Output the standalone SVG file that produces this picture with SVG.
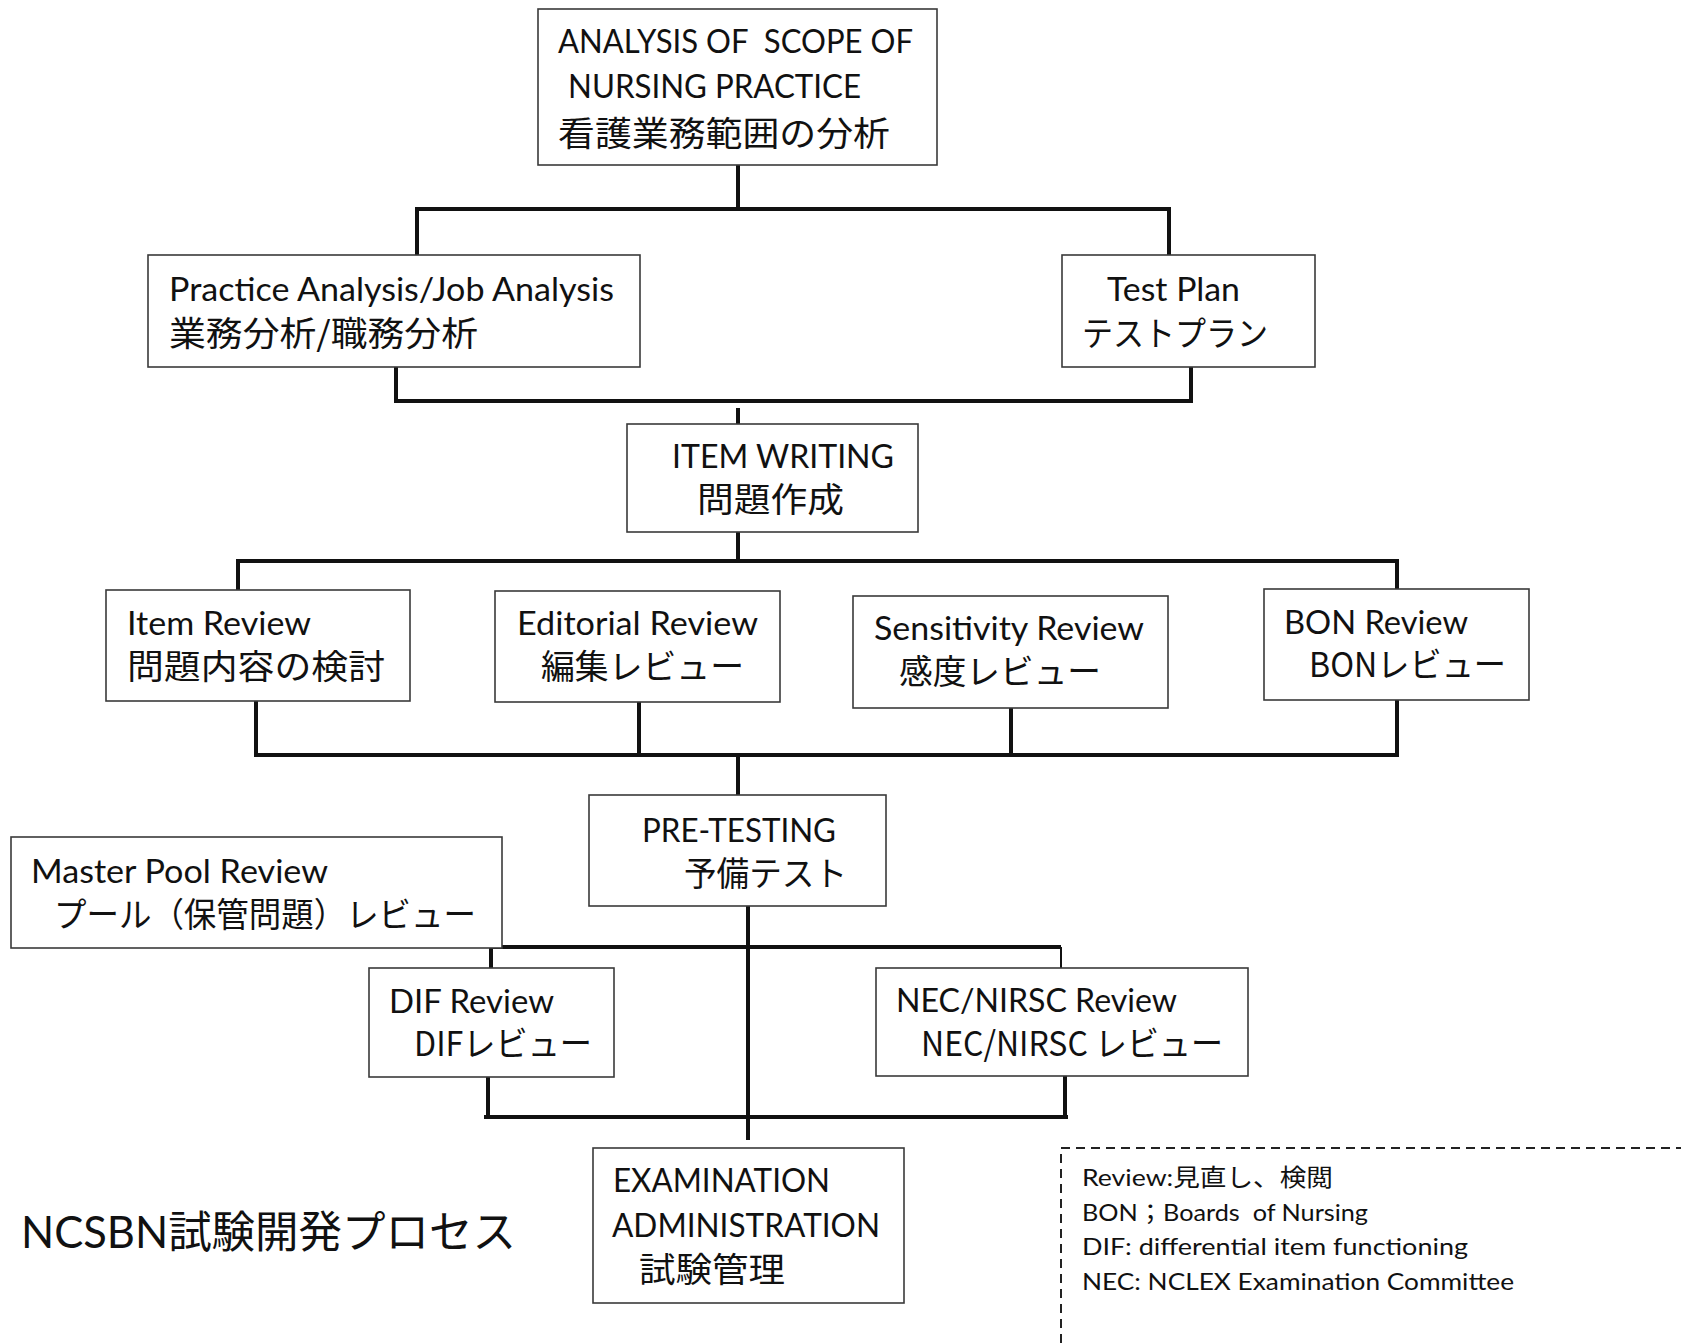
<svg xmlns="http://www.w3.org/2000/svg" width="1681" height="1343" viewBox="0 0 1681 1343">
<style>
.box{fill:#fff;stroke:#3a3a3a;stroke-width:1.6}
.t{font-family:Lato,"Open Sans","Noto Sans CJK JP",sans-serif;font-size:32px;fill:#111}
.j{font-family:"Noto Sans CJK JP",sans-serif;font-size:34px;fill:#111}
.lg{font-family:Lato,"Noto Sans CJK JP",sans-serif;font-size:24px;fill:#111}
.c{fill:none;stroke:#111;stroke-width:4;stroke-linejoin:miter}
.d{fill:none;stroke:#222;stroke-width:2;stroke-dasharray:9 6}
</style>
<rect width="1681" height="1343" fill="#fff"/>
<g id="connectors">
<path class="c" d="M738 165V209M417 255V209H1169V255"/>
<path class="c" d="M396 367V401H1191V367M738 408V424"/>
<path class="c" d="M738 532V561M238 590V561H1397V589"/>
<path class="c" d="M256 701V755H1397V700M639 702V755M1011 708V755M738 755V795"/>
<path class="c" d="M748 906V1140M491 968V947H1061"/>
<path class="c" style="stroke-width:2" d="M1061 947V968"/>
<path class="c" d="M488 1077V1117H1065V1076M484 1117H1068"/>
</g>
<g id="n-scope"><rect class="box" x="538" y="9" width="399" height="156"/>
<text class="t" x="558" y="53" textLength="355" lengthAdjust="spacingAndGlyphs" xml:space="preserve">ANALYSIS OF  SCOPE OF</text>
<text class="t" x="568" y="98" textLength="293" lengthAdjust="spacingAndGlyphs">NURSING PRACTICE</text>
<text class="j" x="558" y="146" textLength="332" lengthAdjust="spacingAndGlyphs">看護業務範囲の分析</text></g>
<g id="n-practice"><rect class="box" x="148" y="255" width="492" height="112"/>
<text class="t" x="169" y="301" textLength="445" lengthAdjust="spacingAndGlyphs">Practice Analysis/Job Analysis</text>
<text class="j" x="169" y="346" textLength="309" lengthAdjust="spacingAndGlyphs">業務分析/職務分析</text></g>
<g id="n-testplan"><rect class="box" x="1062" y="255" width="253" height="112"/>
<text class="t" x="1107" y="301" textLength="133" lengthAdjust="spacingAndGlyphs">Test Plan</text>
<text class="j" x="1082" y="346" textLength="186" lengthAdjust="spacingAndGlyphs">テストプラン</text></g>
<g id="n-itemwriting"><rect class="box" x="627" y="424" width="291" height="108"/>
<text class="t" x="672" y="468" textLength="222" lengthAdjust="spacingAndGlyphs">ITEM WRITING</text>
<text class="j" x="697" y="512" textLength="147" lengthAdjust="spacingAndGlyphs">問題作成</text></g>
<g id="n-itemreview"><rect class="box" x="106" y="590" width="304" height="111"/>
<text class="t" x="127" y="635" textLength="184" lengthAdjust="spacingAndGlyphs">Item Review</text>
<text class="j" x="127" y="679" textLength="258" lengthAdjust="spacingAndGlyphs">問題内容の検討</text></g>
<g id="n-editorial"><rect class="box" x="495" y="591" width="285" height="111"/>
<text class="t" x="517" y="635" textLength="241" lengthAdjust="spacingAndGlyphs">Editorial Review</text>
<text class="j" x="541" y="679" textLength="203" lengthAdjust="spacingAndGlyphs">編集レビュー</text></g>
<g id="n-sensitivity"><rect class="box" x="853" y="596" width="315" height="112"/>
<text class="t" x="874" y="640" textLength="270" lengthAdjust="spacingAndGlyphs">Sensitivity Review</text>
<text class="j" x="899" y="684" textLength="202" lengthAdjust="spacingAndGlyphs">感度レビュー</text></g>
<g id="n-bon"><rect class="box" x="1264" y="589" width="265" height="111"/>
<text class="t" x="1284" y="634" textLength="184" lengthAdjust="spacingAndGlyphs">BON Review</text>
<text class="j" x="1309" y="677" textLength="197" lengthAdjust="spacingAndGlyphs">BONレビュー</text></g>
<g id="n-pretesting"><rect class="box" x="589" y="795" width="297" height="111"/>
<text class="t" x="642" y="842" textLength="194" lengthAdjust="spacingAndGlyphs">PRE-TESTING</text>
<text class="j" x="684" y="886" textLength="163" lengthAdjust="spacingAndGlyphs">予備テスト</text></g>
<g id="n-masterpool"><rect class="box" x="11" y="837" width="491" height="111"/>
<text class="t" x="31" y="883" textLength="297" lengthAdjust="spacingAndGlyphs">Master Pool Review</text>
<text class="j" x="54" y="927" textLength="422" lengthAdjust="spacingAndGlyphs">プール（保管問題）レビュー</text></g>
<g id="n-dif"><rect class="box" x="369" y="968" width="245" height="109"/>
<text class="t" x="389" y="1013" textLength="165" lengthAdjust="spacingAndGlyphs">DIF Review</text>
<text class="j" x="414" y="1056" textLength="178" lengthAdjust="spacingAndGlyphs">DIFレビュー</text></g>
<g id="n-nec"><rect class="box" x="876" y="968" width="372" height="108"/>
<text class="t" x="896" y="1012" textLength="281" lengthAdjust="spacingAndGlyphs">NEC/NIRSC Review</text>
<text class="j" x="921" y="1056" textLength="302" lengthAdjust="spacingAndGlyphs">NEC/NIRSC レビュー</text></g>
<g id="n-exam"><rect class="box" x="593" y="1148" width="311" height="155"/>
<text class="t" x="613" y="1192" textLength="217" lengthAdjust="spacingAndGlyphs">EXAMINATION</text>
<text class="t" x="612" y="1237" textLength="268" lengthAdjust="spacingAndGlyphs">ADMINISTRATION</text>
<text class="j" x="639" y="1282" textLength="146" lengthAdjust="spacingAndGlyphs">試験管理</text></g>
<g id="title"><text class="t" style="font-size:44px" x="21" y="1248" textLength="495" lengthAdjust="spacingAndGlyphs">NCSBN試験開発プロセス</text></g>
<g id="legend">
<path class="d" d="M1061 1343V1148H1681"/>
<text class="lg" x="1082" y="1186" textLength="251" lengthAdjust="spacingAndGlyphs">Review:見直し、検閲</text>
<text class="lg" x="1082" y="1221" textLength="286" lengthAdjust="spacingAndGlyphs" xml:space="preserve">BON；Boards  of Nursing</text>
<text class="lg" x="1082" y="1255" textLength="386" lengthAdjust="spacingAndGlyphs">DIF: differential item functioning</text>
<text class="lg" x="1082" y="1290" textLength="432" lengthAdjust="spacingAndGlyphs">NEC: NCLEX Examination Committee</text>
</g>
</svg>
